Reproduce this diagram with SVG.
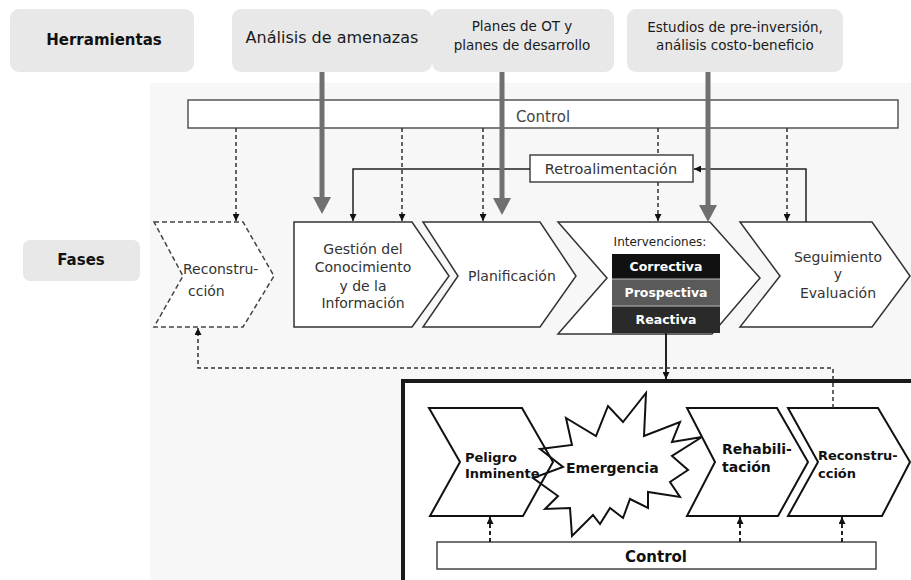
<svg xmlns="http://www.w3.org/2000/svg" width="911" height="580" viewBox="0 0 911 580">
  <style>
    .tool { fill: #e8e8e8; }
    .tooltxt { font-family: "DejaVu Sans", Verdana, sans-serif; font-size: 13.5px; fill: #1a1a1a; text-anchor: middle; }
    .lbl { font-family: "DejaVu Sans", Verdana, sans-serif; font-size: 14px; font-weight: bold; fill: #111; text-anchor: middle; }
    .phase { fill: #fff; stroke: #333; stroke-width: 1.5; }
    .ptxt { font-family: "DejaVu Sans", Verdana, sans-serif; font-size: 14px; fill: #333; text-anchor: middle; }
    .itxt { font-family: "DejaVu Sans", Verdana, sans-serif; font-size: 12.5px; font-weight: bold; fill: #fff; text-anchor: middle; }
    .inner { fill: #fff; stroke: #111; stroke-width: 2; }
    .btxt { font-family: "DejaVu Sans", Verdana, sans-serif; font-size: 13px; font-weight: bold; fill: #111; }
    .dash { fill: none; stroke: #333; stroke-width: 1.5; stroke-dasharray: 4 3; }
    .dash2 { fill: none; stroke: #222; stroke-width: 2; stroke-dasharray: 4 3; }
    .solid { fill: none; stroke: #222; stroke-width: 1.5; }
    .thick { stroke: #707070; stroke-width: 5; }
    .head { fill: #707070; }
  </style>
  <defs>
    <marker id="ah" viewBox="0 0 10 10" refX="10" refY="5" markerWidth="7" markerHeight="7" markerUnits="userSpaceOnUse" orient="auto">
      <path d="M0,0 L10,5 L0,10 z" fill="#111"/>
    </marker>
  </defs>

  <!-- faint backdrop behind the phase chart -->
  <rect x="150" y="83" width="761" height="497" fill="#f7f7f7"/>

  <!-- tool boxes -->
  <g id="herramientas">
    <rect class="tool" x="10" y="9" width="184" height="63" rx="9"/>
    <text class="lbl" x="104" y="45" style="font-size:15px">Herramientas</text>
  </g>
  <g id="analisis">
    <rect class="tool" x="232" y="9" width="200" height="63" rx="9"/>
    <text class="tooltxt" x="332" y="43" style="font-size:16px">Análisis de amenazas</text>
  </g>
  <g id="planes">
    <rect class="tool" x="432" y="9" width="182" height="63" rx="9"/>
    <text class="tooltxt" x="522" y="31">Planes de OT y</text>
    <text class="tooltxt" x="522" y="50">planes de desarrollo</text>
  </g>
  <g id="estudios">
    <rect class="tool" x="627" y="9" width="216" height="63" rx="9"/>
    <text class="tooltxt" x="735" y="32">Estudios de pre-inversión,</text>
    <text class="tooltxt" x="735" y="50">análisis costo-beneficio</text>
  </g>
  <g id="fases">
    <rect class="tool" x="23" y="240" width="117" height="41" rx="7"/>
    <text class="lbl" x="81" y="265" style="font-size:15px">Fases</text>
  </g>

  <!-- top control bar -->
  <g id="control-top">
    <rect x="188" y="100" width="710" height="28" fill="#fff" stroke="#555" stroke-width="1.5"/>
    <text x="543" y="122" font-family="DejaVu Sans, Verdana, sans-serif" font-size="15" fill="#444" text-anchor="middle">Control</text>
  </g>

  <!-- feedback box -->
  <g id="retroalimentacion">
    <rect x="530" y="155" width="163" height="27" fill="#fff" stroke="#444" stroke-width="1.5"/>
    <text x="611" y="174" font-family="DejaVu Sans, Verdana, sans-serif" font-size="14.5" fill="#333" text-anchor="middle">Retroalimentación</text>
  </g>

  <!-- phases -->
  <g id="fase-reconstruccion">
    <path d="M154,222 L243,222 L274,276 L243,327 L154,327 L183,276 Z" fill="#fff" stroke="#444" stroke-width="1.5" stroke-dasharray="5 3"/>
    <text class="ptxt" x="183" y="274" style="text-anchor:start">Reconstru-</text>
    <text class="ptxt" x="188" y="296" style="text-anchor:start">cción</text>
  </g>
  <g id="fase-gestion">
    <path class="phase" d="M294,222 L412,222 L449,276 L412,327 L294,327 Z"/>
    <text class="ptxt" x="363" y="254">Gestión del</text>
    <text class="ptxt" x="363" y="272">Conocimiento</text>
    <text class="ptxt" x="363" y="291">y de la</text>
    <text class="ptxt" x="363" y="308">Información</text>
  </g>
  <g id="fase-planificacion">
    <path class="phase" d="M423,222 L540,222 L576,276 L540,327 L423,327 L458,276 Z"/>
    <text class="ptxt" x="468" y="281" style="text-anchor:start">Planificación</text>
  </g>
  <g id="fase-intervenciones">
    <path class="phase" d="M558,222 L710,222 L760,278 L712,334 L558,334 L607,278 Z"/>
    <text x="660" y="246" font-family="DejaVu Sans, Verdana, sans-serif" font-size="12" fill="#222" text-anchor="middle">Intervenciones:</text>
    <rect x="612" y="254" width="108" height="25" fill="#111"/>
    <rect x="612" y="279" width="108" height="27" fill="#5a5a5a"/>
    <rect x="612" y="306" width="108" height="27" fill="#2a2a2a"/>
    <line x1="612" y1="279" x2="720" y2="279" stroke="#bbb" stroke-width="1"/>
    <line x1="612" y1="306" x2="720" y2="306" stroke="#bbb" stroke-width="1"/>
    <text class="itxt" x="666" y="271">Correctiva</text>
    <text class="itxt" x="666" y="297">Prospectiva</text>
    <text class="itxt" x="666" y="324">Reactiva</text>
  </g>
  <g id="fase-seguimiento">
    <path class="phase" d="M740,222 L872,222 L910,276 L872,327 L740,327 L780,276 Z"/>
    <text class="ptxt" x="838" y="262">Seguimiento</text>
    <text class="ptxt" x="838" y="279">y</text>
    <text class="ptxt" x="838" y="298">Evaluación</text>
  </g>

  <!-- emergency response frame -->
  <g id="respuesta">
    <rect x="403" y="381" width="560" height="260" fill="#fff" stroke="#1a1a1a" stroke-width="4"/>
  </g>
  <g id="peligro">
    <path class="inner" d="M429,408 L522,408 L553,462 L523,516 L430,516 L460,462 Z"/>
    <text class="btxt" x="465" y="462">Peligro</text>
    <text class="btxt" x="465" y="478">Inminente</text>
  </g>
  <g id="emergencia">
    <!-- starburst outline, unfilled so the hazard shape stays visible under it -->
    <path d="M540,449 L572,445 L566,418 L596,436 L608,406 L623,422 L646,393 L644,436 L680,422 L672,442 L702,437 L672,456 L688,470 L670,482 L680,497 L648,492 L648,508 L630,499 L623,518 L610,508 L600,524 L593,515 L572,536 L570,508 L545,509 L558,496 L533,478 L563,467 Z" fill="none" stroke="#111" stroke-width="2"/>
    <text class="btxt" x="566" y="473" style="font-size:14px">Emergencia</text>
  </g>
  <g id="rehabilitacion">
    <path class="inner" d="M687,408 L777,408 L808,462 L778,516 L687,516 L715,462 Z"/>
    <text class="btxt" x="722" y="454" style="font-size:14px">Rehabili-</text>
    <text class="btxt" x="722" y="472" style="font-size:14px">tación</text>
  </g>
  <g id="reconstruccion">
    <path class="inner" d="M788,408 L878,408 L910,462 L882,516 L788,516 L818,462 Z"/>
    <text class="btxt" x="818" y="460">Reconstru-</text>
    <text class="btxt" x="818" y="478">cción</text>
  </g>
  <g id="control-bottom">
    <rect x="437" y="542" width="439" height="27" fill="#fff" stroke="#444" stroke-width="1.5"/>
    <text class="btxt" x="656" y="562" text-anchor="middle" style="font-size:15px">Control</text>
  </g>

  <!-- connectors -->
  <g id="connectors">
    <!-- control to phases -->
    <line class="dash" x1="236" y1="128" x2="236" y2="221" marker-end="url(#ah)"/>
    <line class="dash" x1="402" y1="128" x2="402" y2="221" marker-end="url(#ah)"/>
    <line class="dash" x1="483" y1="128" x2="483" y2="221" marker-end="url(#ah)"/>
    <line class="dash" x1="658" y1="128" x2="658" y2="155"/>
    <line class="dash" x1="658" y1="182" x2="658" y2="221" marker-end="url(#ah)"/>
    <line class="dash" x1="787" y1="128" x2="787" y2="221" marker-end="url(#ah)"/>
    <!-- feedback loop -->
    <polyline class="solid" points="806,222 806,169 694,169" marker-end="url(#ah)"/>
    <polyline class="solid" points="530,169 353,169 353,221" marker-end="url(#ah)"/>
    <!-- reactive intervention into response -->
    <line x1="666" y1="333" x2="666" y2="379" stroke="#222" stroke-width="2" marker-end="url(#ah)"/>
    <!-- return to reconstruction phase -->
    <polyline class="dash" points="833,408 833,368 198,368 198,328" marker-end="url(#ah)"/>
    <!-- bottom control to response stages -->
    <line class="dash2" x1="490" y1="542" x2="490" y2="517" marker-end="url(#ah)"/>
    <line class="dash2" x1="740" y1="542" x2="740" y2="517" marker-end="url(#ah)"/>
    <line class="dash2" x1="842" y1="542" x2="842" y2="517" marker-end="url(#ah)"/>
    <!-- tool inputs -->
    <line class="thick" x1="322" y1="72" x2="322" y2="199"/>
    <polygon class="head" points="313,197 331,197 322,214"/>
    <line class="thick" x1="502" y1="72" x2="502" y2="200"/>
    <polygon class="head" points="493,198 511,198 502,215"/>
    <line class="thick" x1="708" y1="72" x2="708" y2="207"/>
    <polygon class="head" points="699,205 717,205 708,222"/>
  </g>
</svg>
